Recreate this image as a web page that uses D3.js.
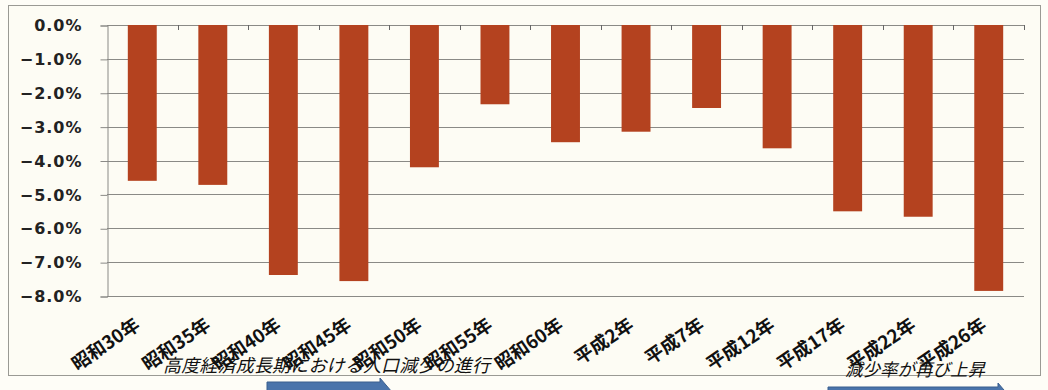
<!DOCTYPE html>
<html><head><meta charset="utf-8">
<script src="https://cdn.jsdelivr.net/npm/d3@7"></script>
<style>
html,body{margin:0;padding:0;background:#fefdf7;}
svg{display:block;}
</style></head>
<body>
<svg id="chart" width="1048" height="390"></svg>
<script>
const categories = ["昭和30年","昭和35年","昭和40年","昭和45年","昭和50年","昭和55年","昭和60年","平成2年","平成7年","平成12年","平成17年","平成22年","平成26年"];
const values = [-4.6, -4.72, -7.38, -7.56, -4.2, -2.34, -3.46, -3.15, -2.45, -3.64, -5.5, -5.66, -7.85];
const yTicks = [0, -1, -2, -3, -4, -5, -6, -7, -8];
const annotations = ["高度経済成長期における人口減少の進行", "減少率が再び上昇"];

(function(){
const svg = d3.select("#chart");
const pL = 107, pR = 1024, pT = 25, pB = 296;

svg.append("rect").attr("x",0).attr("y",0).attr("width",1048).attr("height",390).attr("fill","#fefdf7");
svg.append("rect").attr("x",8.5).attr("y",5.5).attr("width",1032).attr("height",370)
  .attr("fill","#fdfcf4").attr("stroke","#9a9a94").attr("stroke-width",1);

const x = d3.scaleBand().domain(categories).range([pL, pR]).paddingInner(0.59).paddingOuter(0.295);
const y = d3.scaleLinear().domain([-8, 0]).range([pB, pT]);

// gridlines
svg.append("g").selectAll("line").data(yTicks).join("line")
  .attr("x1", pL).attr("x2", pR)
  .attr("y1", d => Math.round(y(d)) + 0.5).attr("y2", d => Math.round(y(d)) + 0.5)
  .attr("stroke", "#8a8a86").attr("stroke-width", 1);

// y axis
const yAxis = d3.axisLeft(y).tickValues(yTicks).tickSize(7).tickPadding(18)
  .tickFormat(d => d3.format(".1f")(d) + "%");
const ya = svg.append("g").attr("transform", `translate(${pL+0.5},0.5)`).call(yAxis);
ya.select(".domain").attr("stroke", "#8a8a86");
ya.selectAll(".tick line").attr("stroke", "#8a8a86");
ya.selectAll(".tick text")
  .attr("font-family", "'DejaVu Sans', Verdana, sans-serif")
  .attr("font-weight", "bold").attr("font-size", 16).attr("letter-spacing", 1)
  .attr("fill", "#222");

// bars
svg.append("g").selectAll("rect").data(values).join("rect")
  .attr("x", (d, i) => x(categories[i]))
  .attr("width", x.bandwidth())
  .attr("y", d => y(0))
  .attr("height", d => y(d) - y(0))
  .attr("fill", "#b4421f");

// category axis ticks at boundaries (on the 0 line)
const step = x.step();
const bounds = d3.range(categories.length + 1).map(i => pL + i * step);
svg.append("g").selectAll("line").data(bounds.slice(1)).join("line")
  .attr("x1", d => Math.round(d) + 0.5).attr("x2", d => Math.round(d) + 0.5)
  .attr("y1", y(0)).attr("y2", y(0) + 5)
  .attr("stroke", "#666").attr("stroke-width", 1);

// category labels
svg.append("g").selectAll("text").data(categories).join("text")
  .attr("transform", d => `translate(${x(d) + x.bandwidth()/2 - 1},328) rotate(-34)`)
  .attr("text-anchor", "end")
  .attr("font-family", "'Noto Sans CJK JP', sans-serif")
  .attr("font-weight", "bold").attr("font-size", 18.5)
  .attr("fill", "#111")
  .text(d => d);

// blue arrows (partially visible at bottom)
function arrow(x0, x1, yTop) {
  svg.append("path")
    .attr("d", `M${x0},${yTop} L${x1-12},${yTop} L${x1-12},${yTop-4} L${x1},${yTop+10} L${x0},${yTop+10} Z`)
    .attr("fill", "#4a74ab").attr("stroke", "#3b5f8e").attr("stroke-width", 1);
}
arrow(267, 392, 382);
arrow(828, 1010, 387);

// annotation texts
svg.append("text").attr("x", 163).attr("y", 372)
  .attr("font-family", "'Noto Sans CJK JP', sans-serif").attr("font-style", "italic")
  .attr("font-size", 18).attr("fill", "#111").attr("textLength", 327)
  .text(annotations[0]);
svg.append("text").attr("x", 845).attr("y", 376)
  .attr("font-family", "'Noto Sans CJK JP', sans-serif").attr("font-style", "italic")
  .attr("font-size", 17.5).attr("fill", "#111").attr("textLength", 140)
  .text(annotations[1]);
})();
</script>
</body></html>
